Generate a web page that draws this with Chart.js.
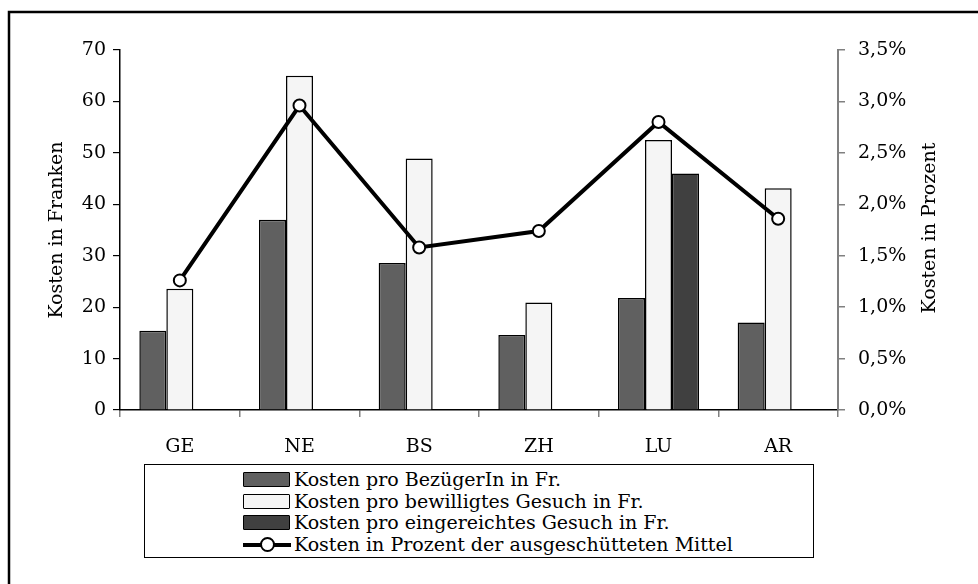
<!DOCTYPE html>
<html>
<head>
<meta charset="utf-8">
<script src="https://cdn.jsdelivr.net/npm/chart.js@4.4.1/dist/chart.umd.min.js"></script>
<style>
  html, body { margin: 0; padding: 0; background: #fff; }
  #wrap { position: relative; width: 978px; height: 584px; overflow: hidden; }
  #legend {
    position: absolute; left: 144px; top: 464px; width: 668px; height: 92px;
    border: 1.5px solid #000; background: #fff;
    font-family: "DejaVu Serif", serif; font-size: 19px; color: #000;
  }
  .row { position: absolute; left: 98px; height: 21px; line-height: 21px; white-space: nowrap; }
  .sw { position: absolute; left: 0; top: 3px; width: 45px; height: 13px; border: 1.5px solid #000; border-radius: 1px; }
  .ln { position: absolute; left: 0; top: 8.5px; width: 48px; height: 4px; background: #000; }
  .mk { position: absolute; left: 17px; top: 3px; width: 11px; height: 11px; border: 2px solid #000; border-radius: 50%; background: #fff; }
  .tx { position: absolute; left: 51px; top: 0; }
</style>
</head>
<body>
<div id="wrap">
  <canvas id="c" width="978" height="584"></canvas>
  <div id="legend"></div>
</div>
<script>
const categories = ["GE", "NE", "BS", "ZH", "LU", "AR"];
const seriesLabels = [
  "Kosten pro BezügerIn in Fr.",
  "Kosten pro bewilligtes Gesuch in Fr.",
  "Kosten pro eingereichtes Gesuch in Fr.",
  "Kosten in Prozent der ausgeschütteten Mittel"
];
const kostenBezuegerin = [15.4, 37.0, 28.6, 14.6, 21.8, 17.0];
const kostenBewilligt = [23.6, 65.0, 48.9, 20.9, 52.5, 43.1];
const kostenEingereicht = [null, null, null, null, 46.0, null];
const kostenProzent = [1.26, 2.96, 1.58, 1.74, 2.80, 1.86];
const axisTitleLeft = "Kosten in Franken";
const axisTitleRight = "Kosten in Prozent";

const FONT = "DejaVu Serif";
const colors = ["#606060", "#f5f5f5", "#404040"];

const extras = {
  id: "extras",
  afterDraw(chart) {
    const ctx = chart.ctx;
    ctx.save();
    // outer frame (top + left edges visible)
    ctx.strokeStyle = "#000";
    ctx.lineWidth = 2.5;
    ctx.beginPath();
    ctx.moveTo(9, 600);
    ctx.lineTo(9, 12);
    ctx.lineTo(990, 12);
    ctx.stroke();
    // axis titles
    const ya = chart.scales.y;
    const mid = (ya.top + ya.bottom) / 2;
    ctx.fillStyle = "#000";
    ctx.font = "19px '" + FONT + "'";
    ctx.textAlign = "center";
    ctx.textBaseline = "middle";
    ctx.translate(57, mid);
    ctx.rotate(-Math.PI / 2);
    ctx.fillText(axisTitleLeft, 0, 0);
    ctx.restore();
    ctx.save();
    ctx.fillStyle = "#000";
    ctx.font = "19px '" + FONT + "'";
    ctx.textAlign = "center";
    ctx.textBaseline = "middle";
    ctx.translate(930, mid - 2);
    ctx.rotate(-Math.PI / 2);
    ctx.fillText(axisTitleRight, 0, 0);
    ctx.restore();
  }
};

const barDs = (label, data, color) => ({
  type: "bar", label, data, yAxisID: "y",
  backgroundColor: color, borderColor: "#000", borderWidth: 1.5,
  categoryPercentage: 0.677, barPercentage: 1.0, order: 2
});

new Chart(document.getElementById("c"), {
  data: {
    labels: categories,
    datasets: [
      barDs(seriesLabels[0], kostenBezuegerin, colors[0]),
      barDs(seriesLabels[1], kostenBewilligt, colors[1]),
      barDs(seriesLabels[2], kostenEingereicht, colors[2]),
      {
        type: "line", label: seriesLabels[3], data: kostenProzent, yAxisID: "y1",
        borderColor: "#000", borderWidth: 4, tension: 0,
        pointRadius: 6, pointBorderWidth: 2, pointBackgroundColor: "#fff",
        pointBorderColor: "#000", order: 0
      }
    ]
  },
  options: {
    responsive: false,
    animation: false,
    layout: { padding: { top: 50, left: 0, right: 0, bottom: 0 } },
    plugins: { legend: { display: false }, tooltip: { enabled: false } },
    scales: {
      x: {
        offset: true,
        grid: { offset: true, drawOnChartArea: false, drawTicks: true, tickLength: 7, color: "#808080", lineWidth: 1.5 },
        border: { display: true, color: "#000", width: 1.5 },
        ticks: { color: "#000", font: { family: FONT, size: 19 }, padding: 19, maxRotation: 0 },
        afterFit(s) { s.height = 174; }
      },
      y: {
        position: "left", min: 0, max: 70,
        grid: { drawOnChartArea: false, tickLength: 7, color: "#000", lineWidth: 1.2 },
        border: { display: true, color: "#000", width: 1.5 },
        ticks: { stepSize: 10, color: "#000", font: { family: FONT, size: 19 }, padding: 7 },
        afterFit(s) { s.width = 120; }
      },
      y1: {
        position: "right", min: 0, max: 3.5,
        grid: { drawOnChartArea: false, tickLength: 7, color: "#808080", lineWidth: 1.5 },
        border: { display: true, color: "#808080", width: 2 },
        ticks: {
          stepSize: 0.5, color: "#000", font: { family: FONT, size: 19 }, padding: 13,
          callback: v => v.toFixed(1).replace(".", ",") + "%"
        },
        afterFit(s) { s.width = 140; }
      }
    }
  },
  plugins: [extras]
});

// legend built from the series labels
const leg = document.getElementById("legend");
const rowTops = [4, 26, 47, 69];
seriesLabels.forEach((lab, i) => {
  const r = document.createElement("div");
  r.className = "row";
  r.style.top = rowTops[i] + "px";
  if (i < 3) {
    const s = document.createElement("div");
    s.className = "sw";
    s.style.background = colors[i];
    r.appendChild(s);
  } else {
    const l = document.createElement("div"); l.className = "ln"; r.appendChild(l);
    const m = document.createElement("div"); m.className = "mk"; r.appendChild(m);
  }
  const t = document.createElement("span");
  t.className = "tx";
  t.textContent = lab;
  r.appendChild(t);
  leg.appendChild(r);
});
</script>
</body>
</html>
